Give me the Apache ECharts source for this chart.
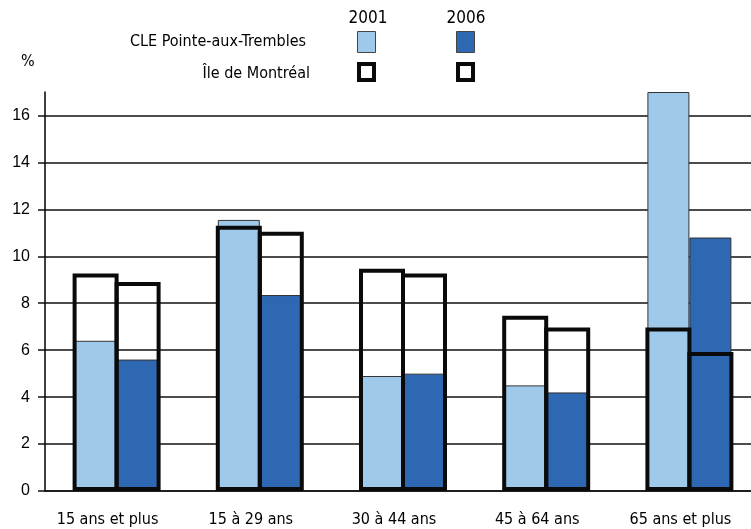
<!DOCTYPE html>
<html>
<head>
<meta charset="utf-8">
<script src="https://cdn.jsdelivr.net/npm/echarts@6/dist/echarts.min.js"></script>
<style>
html,body{margin:0;padding:0;background:#fff;}
#chart{width:751px;height:529px;}
</style>
</head>
<body>
<div id="chart"></div>
<script>
const categories = ['15 ans et plus', '15 à 29 ans', '30 à 44 ans', '45 à 64 ans', '65 ans et plus'];
const cle2001 = [6.4, 11.55, 4.9, 4.5, 17.0];
const cle2006 = [5.6, 8.35, 5.0, 4.2, 10.8];
const mtl2001 = [9.27, 11.3, 9.47, 7.47, 6.97];
const mtl2006 = [8.9, 11.05, 9.27, 6.97, 5.92];
const yTicks = [0, 2, 4, 6, 8, 10, 12, 14, 16];
const yearLabels = ['2001', '2006'];
const rowLabels = ['CLE Pointe-aux-Trembles', 'Île de Montréal'];

const LIGHT = '#9fc9ea';
const DARK = '#2e67b2';
const condensed = '"Liberation Sans Narrow", "DejaVu Sans Condensed", "Noto Sans", sans-serif';

const chart = echarts.init(document.getElementById('chart'), null, {renderer: 'canvas'});

function fillSeries(name, data, color) {
  return {
    name, type: 'bar', xAxisIndex: 0, data,
    barWidth: 42, barGap: '0%',
    itemStyle: {color, borderColor: '#333', borderWidth: 1},
    emphasis: {disabled: true}, z: 2
  };
}
function outlineSeries(name, data) {
  return {
    name, type: 'bar', xAxisIndex: 1, data,
    barWidth: 46, barGap: '-8.7%',
    itemStyle: {color: 'rgba(0,0,0,0)', borderColor: '#0a0a0a', borderWidth: 4},
    emphasis: {disabled: true}, z: 3
  };
}

const option = {
  animation: false,
  grid: {left: 45, top: 92, width: 716, bottom: 38, containLabel: false, outerBoundsMode: 'none'},
  xAxis: [
    {
      type: 'category', data: categories,
      axisLine: {show: true, lineStyle: {color: '#111', width: 1.5}},
      axisTick: {show: false},
      axisLabel: {color: '#000', fontSize: 16, fontFamily: condensed, margin: 21, padding: [0, 18, 0, 0]}
    },
    {type: 'category', data: categories, show: false}
  ],
  yAxis: {
    type: 'value', min: 0, max: 17, interval: 2,
    axisLine: {show: true, lineStyle: {color: '#000', width: 1.5}},
    axisTick: {show: true, length: 7, lineStyle: {color: '#111', width: 1.5}},
    axisLabel: {color: '#000', fontSize: 16, fontFamily: 'Liberation Sans, Arial, sans-serif', margin: 15, showMaxLabel: false,
      formatter: v => yTicks.includes(v) ? String(v) : ''},
    splitLine: {show: true, showMaxLine: false, lineStyle: {color: '#111', width: 1.5}}
  },
  series: [
    fillSeries('CLE Pointe-aux-Trembles 2001', cle2001, LIGHT),
    fillSeries('CLE Pointe-aux-Trembles 2006', cle2006, DARK),
    outlineSeries('Île de Montréal 2001', mtl2001),
    outlineSeries('Île de Montréal 2006', mtl2006)
  ],
  graphic: [
    {type: 'text', left: 21, top: 54, style: {text: '%', fontSize: 16, fontFamily: condensed, fill: '#000'}},
    {type: 'text', x: 368, y: 19, style: {text: yearLabels[0], fontSize: 17, fontFamily: condensed, fill: '#000', align: 'center', verticalAlign: 'middle'}},
    {type: 'text', x: 466, y: 19, style: {text: yearLabels[1], fontSize: 17, fontFamily: condensed, fill: '#000', align: 'center', verticalAlign: 'middle'}},
    {type: 'text', x: 306, y: 42, style: {text: rowLabels[0], fontSize: 16, fontFamily: condensed, fill: '#000', align: 'right', verticalAlign: 'middle'}},
    {type: 'text', x: 310, y: 74, style: {text: rowLabels[1], fontSize: 16, fontFamily: condensed, fill: '#000', align: 'right', verticalAlign: 'middle'}},
    {type: 'rect', shape: {x: 357.5, y: 31.5, width: 18, height: 21}, style: {fill: LIGHT, stroke: '#444', lineWidth: 1}},
    {type: 'rect', shape: {x: 456.5, y: 31.5, width: 18, height: 21}, style: {fill: DARK, stroke: '#444', lineWidth: 1}},
    {type: 'rect', shape: {x: 359, y: 64, width: 15, height: 16}, style: {fill: '#fff', stroke: '#0a0a0a', lineWidth: 4}},
    {type: 'rect', shape: {x: 458, y: 64, width: 15, height: 16}, style: {fill: '#fff', stroke: '#0a0a0a', lineWidth: 4}}
  ]
};
chart.setOption(option);
</script>
</body>
</html>
